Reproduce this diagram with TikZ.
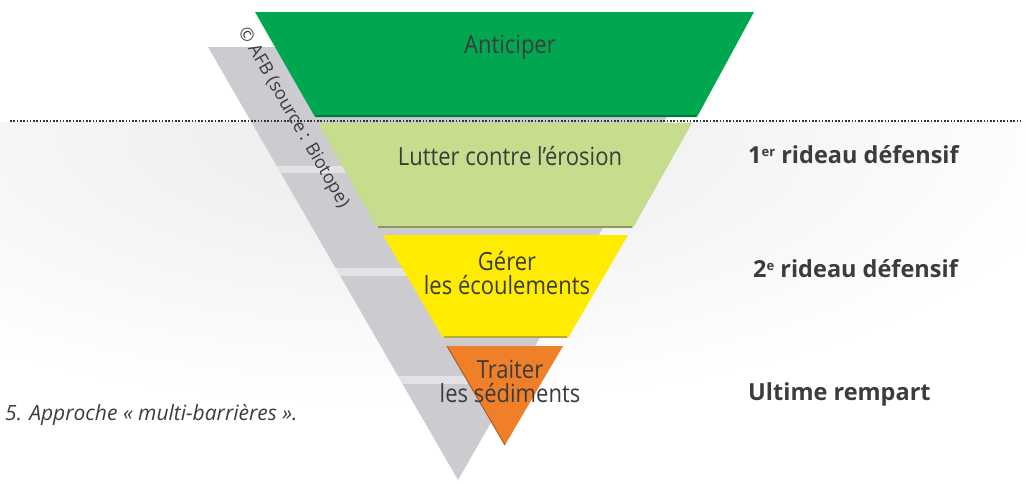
\documentclass[tikz,border=0pt]{standalone}
\usepackage{fontspec}
\setmainfont{Open Sans}
\newfontfamily\lblfont[FakeStretch=0.88]{Open Sans}
\definecolor{txt}{HTML}{3C3C3C}
\definecolor{cGreen}{HTML}{00A650}
\definecolor{cGreenD}{HTML}{007A3A}
\definecolor{cLight}{HTML}{C5DD8C}
\definecolor{cLightD}{HTML}{8A9A62}
\definecolor{cYellow}{HTML}{FFEC00}
\definecolor{cYellowD}{HTML}{B8A640}
\definecolor{cOrange}{HTML}{F07F2A}
\definecolor{cOrangeD}{HTML}{B05A1C}
\definecolor{shad}{HTML}{CCCCD0}
\tikzset{
  inlabel/.style={font=\lblfont\fontsize{25}{25}\selectfont, text=txt, align=center, inner sep=0pt},
  sidelabel/.style={font=\bfseries\fontsize{23.5}{23.5}\selectfont, text=txt, anchor=west, inner sep=0pt},
}
\begin{document}
\begin{tikzpicture}[x=1pt,y=-1pt]
\useasboundingbox (0,0) rectangle (1026,483);
% soft background
\begin{scope}
  \clip (0,122) rectangle (1026,483);
  \shade[inner color=gray!16, outer color=white] (400,130) ellipse (700 and 280);
\end{scope}
% shadow
\fill[shad, shift={(-47,35)}] (255,12) -- (754,12) -- (505,445) -- cycle;
% soft light bars in the shadow
\begin{scope}
  \clip[shift={(-47,35)}] (255,12) -- (754,12) -- (505,445) -- cycle;
  \fill[white, opacity=0.45] (200,166) rectangle (700,173);
  \fill[white, opacity=0.45] (200,268) rectangle (700,276);
  \fill[white, opacity=0.45] (200,376) rectangle (700,384);
\end{scope}
% bands
\fill[cGreen] (255,12) -- (754,12) -- (697,117) -- (315,117) -- cycle;
\draw[cGreenD, line width=1.5pt] (316,116) -- (696,116);
\fill[cLight] (318,123) -- (692,123) -- (633,228) -- (377,228) -- cycle;
\draw[cLightD, line width=1.5pt] (378,227) -- (632,227);
\fill[cYellow] (383,235) -- (628,235) -- (568,338) -- (443,338) -- cycle;
\draw[cYellowD, line width=1.5pt] (444,337) -- (567,337);
\fill[cOrange] (447,346) -- (563,346) -- (505,445) -- cycle;
\draw[cOrangeD, line width=1pt] (447,346) -- (505,445);
% dotted line
\draw[gray!40!black, line width=1.6pt, dash pattern=on 1.6pt off 1.7pt] (10,121) -- (1020,121);
% labels in bands
\node[inlabel] (anticiper) at (510,47) {Anticiper};
\node[inlabel] (lutter) at (510,156) {Lutter contre l’érosion};
\node[inlabel] (gerer) at (507,273) {Gérer\\[-1pt]les écoulements};
\node[inlabel] (traiter) at (510,381) {Traiter\\[-1pt]les sédiments};
% side labels
\node[sidelabel] (r1) at (748,155) {1\raisebox{0.55ex}{\fontsize{13}{13}\selectfont er} rideau défensif};
\node[sidelabel] (r2) at (753,269) {2\raisebox{0.55ex}{\fontsize{13}{13}\selectfont e} rideau défensif};
\node[sidelabel] (r3) at (748,394) {Ultime rempart};
% copyright
\node[font=\fontsize{18}{18}\selectfont, text=txt, rotate=-60, inner sep=0pt] (copy) at (293,118) {© AFB (source : Biotope)};
% caption
\node[font=\itshape\fontsize{21}{21}\selectfont, text=txt, anchor=west, inner sep=0pt] (caption) at (5,415) {5. Approche « multi-barrières ».};
\end{tikzpicture}
\end{document}
